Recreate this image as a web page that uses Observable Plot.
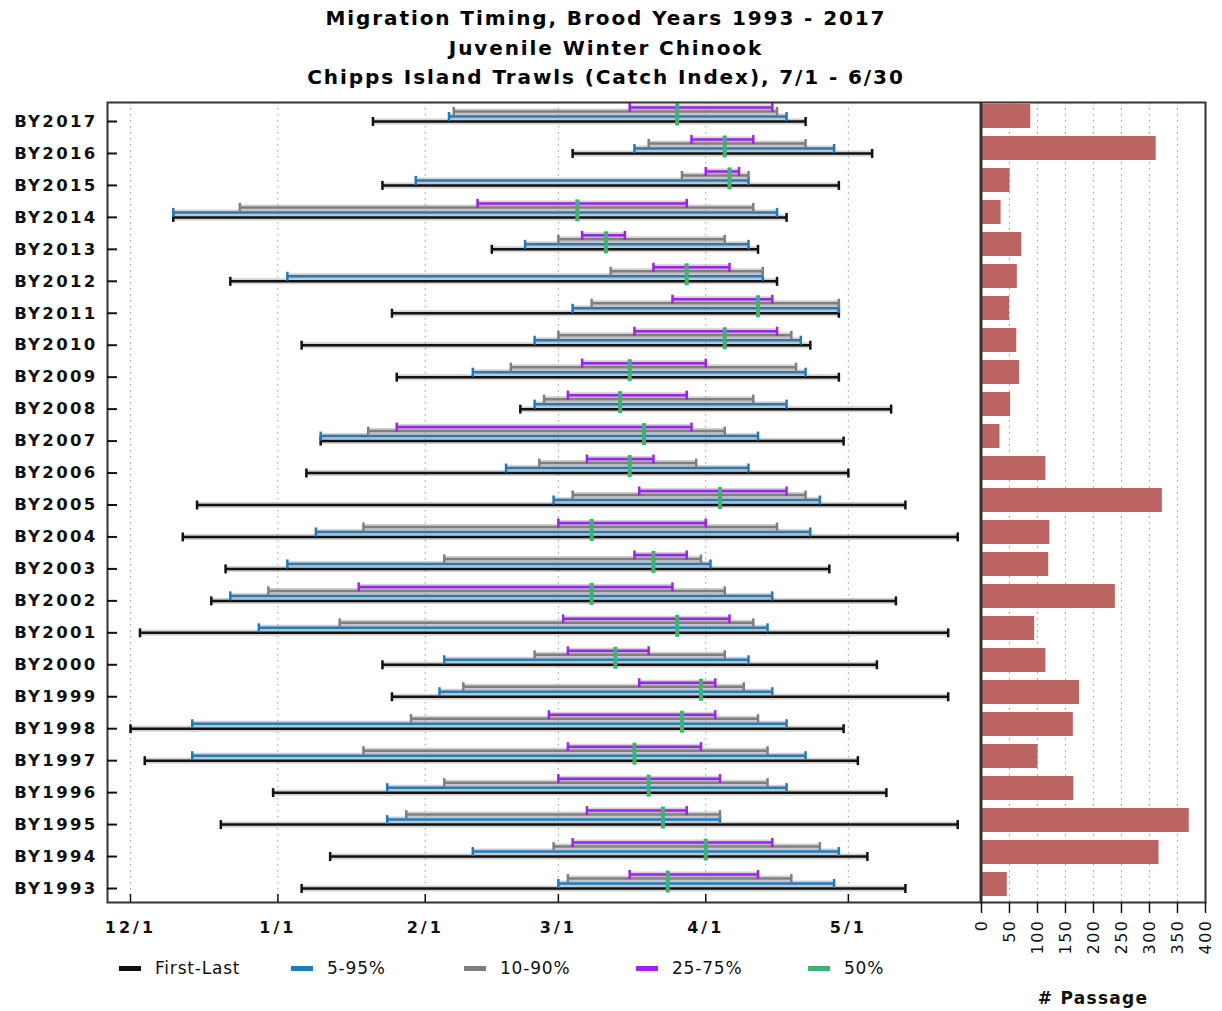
<!DOCTYPE html>
<html><head><meta charset="utf-8">
<script src="https://cdn.jsdelivr.net/npm/d3@7"></script>
<script src="https://cdn.jsdelivr.net/npm/@observablehq/plot@0.6"></script>
<style>
body{margin:0;background:#fff;font-family:"DejaVu Sans",sans-serif;}
#wrap{position:relative;width:1222px;height:1011px;overflow:hidden;background:#fff}
#title{position:absolute;left:0;top:4px;width:1212px;text-align:center;font-weight:bold;font-size:20px;line-height:29.5px;letter-spacing:1.9px;color:#000}
#left{position:absolute;left:0;top:90px}
#right{position:absolute;left:960px;top:90px}
#legend{position:absolute;left:0;top:956px;width:1000px;height:24px;font-size:17px;color:#111}
.lg{position:absolute;top:0;height:24px;line-height:24px;white-space:nowrap;letter-spacing:0.8px}
.sw{position:absolute;top:10px;width:22px;height:5px}
#xlab{position:absolute;left:993px;width:200px;top:988px;text-align:center;font-weight:bold;font-size:17px;letter-spacing:1.3px;color:#111}
#left [aria-label="y-axis tick label"] text{letter-spacing:2.3px}
#left [aria-label="x-axis tick label"] text{letter-spacing:3px}
#right [aria-label="x-axis tick label"] text{letter-spacing:1.5px}
</style>
</head><body>
<div id="wrap">
  <div id="title"></div>
  <div id="left"></div>
  <div id="right"></div>
  <div id="legend"></div>
  <div id="xlab"></div>
</div>
<script>
// ---------- data ----------
const titleLines = ["Migration Timing, Brood Years 1993 - 2017", "Juvenile Winter Chinook", "Chipps Island Trawls (Catch Index), 7/1 - 6/30"];
const years = ["BY2017","BY2016","BY2015","BY2014","BY2013","BY2012","BY2011","BY2010","BY2009","BY2008","BY2007","BY2006","BY2005","BY2004","BY2003","BY2002","BY2001","BY2000","BY1999","BY1998","BY1997","BY1996","BY1995","BY1994","BY1993"];
const firstDay = ["1/21","3/4","1/23","12/10","2/15","12/22","1/25","1/6","1/26","2/21","1/10","1/7","12/15","12/12","12/21","12/18","12/3","1/23","1/25","12/1","12/4","12/31","12/20","1/12","1/6"];
const p05 = ["2/6","3/17","1/30","12/10","2/22","1/3","3/4","2/24","2/11","2/24","1/10","2/18","2/28","1/9","1/3","12/22","12/28","2/5","2/4","12/14","12/14","1/24","1/24","2/11","3/1"];
const p10 = ["2/7","3/20","3/27","12/24","3/1","3/12","3/8","3/1","2/19","2/26","1/20","2/25","3/4","1/19","2/5","12/30","1/14","2/24","2/9","1/29","1/19","2/5","1/28","2/28","3/3"];
const p25 = ["3/16","3/29","4/1","2/12","3/6","3/21","3/25","3/17","3/6","3/3","1/26","3/7","3/18","3/1","3/17","1/18","3/2","3/3","3/18","2/27","3/3","3/1","3/7","3/4","3/16"];
const p50 = ["3/26","4/5","4/6","3/5","3/11","3/28","4/12","4/5","3/16","3/14","3/19","3/16","4/4","3/8","3/21","3/8","3/26","3/13","3/31","3/27","3/17","3/20","3/23","4/1","3/24"];
const p75 = ["4/15","4/11","4/8","3/28","3/15","4/6","4/15","4/16","4/1","3/28","3/29","3/21","4/18","4/1","3/28","3/25","4/6","3/20","4/3","4/3","3/31","4/4","3/28","4/15","4/12"];
const p90 = ["4/16","4/22","4/10","4/11","4/5","4/13","4/29","4/19","4/20","4/11","4/5","3/30","4/22","4/16","3/31","4/5","4/11","4/5","4/9","4/12","4/14","4/14","4/4","4/25","4/19"];
const p95 = ["4/18","4/28","4/10","4/16","4/10","4/13","4/29","4/21","4/22","4/18","4/12","4/10","4/25","4/23","4/2","4/15","4/14","4/10","4/15","4/18","4/22","4/18","4/4","4/29","4/28"];
const lastDay = ["4/22","5/6","4/29","4/18","4/12","4/16","4/29","4/23","4/29","5/10","4/30","5/1","5/13","5/24","4/27","5/11","5/22","5/7","5/22","4/30","5/3","5/9","5/24","5/5","5/13"];
const passage = [88,312,51,35,72,64,50,63,68,52,33,115,323,122,120,239,95,115,175,164,101,165,371,317,46];
const monthTicks = ["12/1","1/1","2/1","3/1","4/1","5/1"];
const passageTicks = [0,50,100,150,200,250,300,350,400];
const legendLabels = ["First-Last","5-95%","10-90%","25-75%","50%"];
const xTitle = "# Passage";

// ---------- helpers ----------
function md(s){ const [m,d] = s.split("/").map(Number); return new Date(Date.UTC(m >= 7 ? 2000 : 2001, m - 1, d)); }
const rows = years.map((label, i) => ({
  label, idx: i,
  first: md(firstDay[i]), p5: md(p05[i]), p10: md(p10[i]), p25: md(p25[i]), p50: md(p50[i]),
  p75: md(p75[i]), p90: md(p90[i]), p95: md(p95[i]), last: md(lastDay[i]),
  passage: passage[i]
}));
const tickDates = monthTicks.map(md);
const fmt = d => `${d.getUTCMonth() + 1}/${d.getUTCDate()}`;
const rowTicks = years.map((_, i) => i);

const colors = {black:"#111111", blue:"#1f7bc1", gray:"#7f7f7f", purple:"#a020f0", green:"#3cb371", bar:"#bc6462"};
const vtick = {draw(ctx, size){ const h = Math.sqrt(size / Math.PI); ctx.moveTo(0, -h); ctx.lineTo(0, h); }};

const levels = [
  {lo:"first", hi:"last", color:colors.black, dy:0},
  {lo:"p5", hi:"p95", color:colors.blue, dy:-5},
  {lo:"p10", hi:"p90", color:colors.gray, dy:-10},
  {lo:"p25", hi:"p75", color:colors.purple, dy:-14}
];

// ---------- title ----------
document.getElementById("title").innerHTML = titleLines.map(t => `<div>${t}</div>`).join("");

// ---------- left panel ----------
const left = Plot.plot({
  width: 981, height: 860,
  marginLeft: 107, marginRight: 1, marginTop: 12, marginBottom: 48,
  style: {fontFamily: "DejaVu Sans", color: "#111", background: "transparent", overflow: "visible"},
  x: {type: "utc", domain: [new Date(Date.UTC(2000,10,26,4)), new Date(Date.UTC(2001,4,28,19))], axis: null, label: null},
  y: {type: "linear", domain: [0, years.length - 1], range: [31, 798], axis: null, label: null},
  marks: [
    Plot.gridX({ticks: tickDates, stroke: "#9a9a9a", strokeOpacity: 1, strokeDasharray: "1.5,4.5"}),
    ...levels.flatMap(l => [
      Plot.ruleY(rows, {y: "idx", x1: l.lo, x2: l.hi, dy: l.dy, stroke: "#9a9a9a", strokeOpacity: 0.45, strokeWidth: 6}),
      Plot.ruleY(rows, {y: "idx", x1: l.lo, x2: l.hi, dy: l.dy, stroke: l.color, strokeWidth: 2.5}),
      Plot.dot(rows, {x: l.lo, y: "idx", dy: l.dy, symbol: vtick, r: 4.5, stroke: l.color, strokeWidth: 2.5, fill: "none"}),
      Plot.dot(rows, {x: l.hi, y: "idx", dy: l.dy, symbol: vtick, r: 4.5, stroke: l.color, strokeWidth: 2.5, fill: "none"})
    ]),
    Plot.dot(rows, {x: "p50", y: "idx", dy: -7, symbol: vtick, r: 11, stroke: colors.green, strokeWidth: 4, fill: "none"}),
    Plot.frame({stroke: "#333", strokeWidth: 2}),
    Plot.axisY({ticks: rowTicks, tickSize: 0, tickPadding: 10, tickFormat: i => years[i], fontSize: 16.5, fontWeight: "bold"}),
    Plot.axisY({ticks: rowTicks, tickSize: -10, tickFormat: () => "", strokeWidth: 2}),
    Plot.axisX({ticks: tickDates, tickSize: -8, tickFormat: () => "", strokeWidth: 1.5}),
    Plot.axisX({ticks: tickDates, tickSize: 0, tickPadding: 19, tickFormat: fmt, fontSize: 16, fontWeight: "bold"})
  ]
});
document.getElementById("left").appendChild(left);

// ---------- right panel ----------
const right = Plot.plot({
  width: 262, height: 860,
  marginLeft: 21, marginRight: 17, marginTop: 12, marginBottom: 48,
  style: {fontFamily: "DejaVu Sans", color: "#111", background: "transparent", overflow: "visible"},
  x: {domain: [0, 400], axis: null, label: null},
  y: {type: "band", domain: years, range: [10, 810], paddingInner: 0.25, paddingOuter: 0.125, axis: null, label: null},
  marks: [
    Plot.gridX({ticks: passageTicks.slice(1, -1), stroke: "#9a9a9a", strokeOpacity: 1, strokeDasharray: "1.5,4.5"}),
    Plot.barX(rows, {x: "passage", y: "label", fill: colors.bar}),
    Plot.frame({stroke: "#333", strokeWidth: 2}),
    Plot.axisX({ticks: passageTicks, tickSize: 11, tickPadding: 6, tickRotate: -90, fontSize: 16, strokeWidth: 1.5})
  ]
});
document.getElementById("right").appendChild(right);

// ---------- legend ----------
const legendColors = [colors.black, colors.blue, colors.gray, colors.purple, colors.green];
const legendX = [119, 291, 464, 636, 808];
const lg = document.getElementById("legend");
legendLabels.forEach((t, i) => {
  const s = document.createElement("div");
  s.className = "sw"; s.style.left = legendX[i] + "px"; s.style.background = legendColors[i];
  lg.appendChild(s);
  const d = document.createElement("div");
  d.className = "lg"; d.style.left = (legendX[i] + 36) + "px"; d.textContent = t;
  lg.appendChild(d);
});
document.getElementById("xlab").textContent = xTitle;
</script>
</body></html>
